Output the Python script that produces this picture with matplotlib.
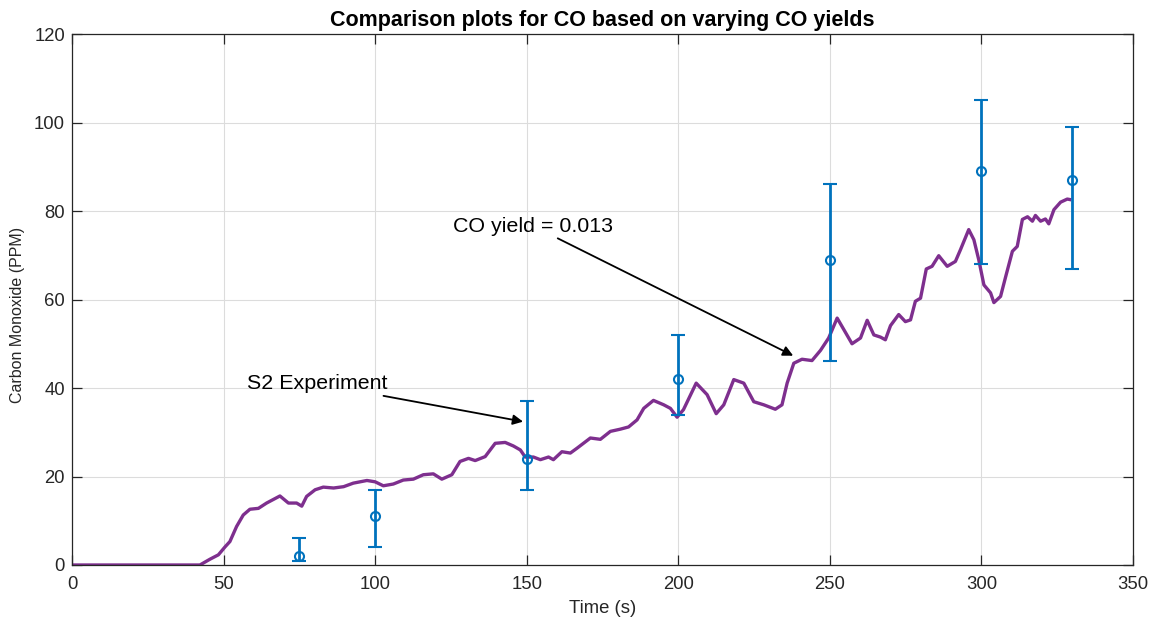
import numpy as np
import matplotlib as mpl
mpl.use('Agg')
import matplotlib.pyplot as plt

plt.rcParams['font.family'] = ['Liberation Sans', 'DejaVu Sans']

## measured CO trace (S2 experiment)
time_s = [0, 20, 42.2, 45.5, 48.3, 50.5, 52.1, 54.3, 56.5, 58.7, 61.5, 64.2,
          68.6, 71.4, 74.1, 75.8, 77.4, 80.2, 82.9, 86.3, 89.6, 92.8, 97.3,
          100, 102.7, 106, 109.3, 112.6, 115.9, 119.2, 122, 125.3, 128,
          130.8, 133, 136.3, 139.6, 142.9, 145.6, 147.9, 149.5, 152.2, 154.5,
          157.2, 158.8, 161.6, 164.4, 166.6, 171, 174.3, 177.6, 180.9, 183.6,
          186.4, 188.6, 191.8, 195.2, 197.4, 199.6, 201.7, 205.9, 209.5,
          212.5, 215, 218.3, 221.6, 224.9, 228.2, 232, 234.2, 235.9, 238.1,
          240.8, 244.1, 246.9, 249.6, 252.4, 254.6, 257.3, 260.1, 262.3,
          264.5, 266.7, 268.3, 270, 272.7, 274.9, 276.6, 278.2, 279.9, 281.8,
          283.7, 285.9, 288.7, 291.4, 293.1, 295.8, 297.5, 299.1, 300.8, 303,
          304.1, 306.3, 308, 310.2, 311.8, 313.5, 315.2, 316.8, 317.8, 319.5,
          321.1, 322.2, 323.9, 326.1, 328.3, 329.1]
co_ppm = [0, 0, 0, 1.3, 2.3, 4.1, 5.3, 8.7, 11.3, 12.6, 12.8, 14,
          15.6, 14, 14, 13.3, 15.5, 17, 17.6, 17.4, 17.7, 18.5, 19.1,
          18.8, 17.9, 18.3, 19.2, 19.4, 20.4, 20.6, 19.4, 20.4, 23.4,
          24.1, 23.6, 24.5, 27.5, 27.7, 26.9, 26, 24.4, 24.4, 23.8,
          24.4, 23.8, 25.6, 25.3, 26.4, 28.7, 28.4, 30.2, 30.7, 31.2,
          32.8, 35.4, 37.2, 36.2, 35.4, 33.4, 35.1, 41.1, 38.5,
          34.2, 36.2, 41.9, 41.1, 36.9, 36.2, 35.2, 36.2, 41.1, 45.6,
          46.5, 46.2, 48.5, 51.3, 55.8, 53.2, 50, 51.3, 55.3,
          52, 51.5, 50.9, 54.1, 56.6, 55, 55.4, 59.6, 60.3, 66.9,
          67.5, 69.9, 67.5, 68.6, 71.3, 75.8, 73.5, 69, 63.3, 61.5,
          59.3, 60.7, 65.2, 70.9, 72, 78.1, 78.7, 77.7, 79, 77.7,
          78.2, 77.1, 80.3, 82, 82.7, 82.6]

## model points for CO yield = 0.013
model_t = [75, 100, 150, 200, 250, 300, 330]
model_co = [2, 11, 24, 42, 69, 89, 87]
err_low = [1, 7, 7, 8, 23, 21, 20]
err_high = [4, 6, 13, 10, 17, 16, 12]

fig = plt.figure(figsize=(11.55, 6.23), dpi=100)
ax = fig.add_axes([0.0623, 0.0931, 0.9187, 0.8523])

ax.plot(time_s, co_ppm, color='#7E2F8E', lw=2.4)
ax.errorbar(model_t, model_co, yerr=[err_low, err_high], fmt='o',
            color='#0072BD', mfc='none', ms=6.5, mew=1.5, elinewidth=2,
            capsize=5, capthick=2)

ax.annotate('S2 Experiment', xy=(148.8, 32.4), xytext=(104, 41.0),
            ha='right', va='center', fontsize=15.4,
            arrowprops=dict(arrowstyle='-|>', color='black', lw=1.3,
                            mutation_scale=15, shrinkA=0, shrinkB=0))
ax.annotate('CO yield = 0.013', xy=(237.9, 47.3), xytext=(178.5, 76.6),
            ha='right', va='center', fontsize=15.4,
            arrowprops=dict(arrowstyle='-|>', color='black', lw=1.3,
                            mutation_scale=15, shrinkA=0, shrinkB=0))

ax.set_xlim(0, 350)
ax.set_ylim(0, 120)
ax.set_xticks(np.arange(0, 351, 50))
ax.set_yticks(np.arange(0, 121, 20))
ax.grid(True, color='#dcdcdc', lw=0.8)
ax.set_axisbelow(True)
ax.tick_params(direction='in', top=True, right=True, length=7,
               labelsize=13.3, colors='#262626', width=0.9)
ax.tick_params(axis='x', pad=8)
ax.tick_params(axis='y', pad=5)
for sp in ax.spines.values():
    sp.set_color('#262626')
    sp.set_linewidth(0.9)

ax.set_xlabel('Time (s)', fontsize=13.3, color='#262626', labelpad=5)
ax.set_ylabel('Carbon Monoxide (PPM)', fontsize=11.5, color='#262626',
              va='center')
ax.yaxis.set_label_coords(-0.051, 0.47)
ax.set_title('Comparison plots for CO based on varying CO yields',
             fontsize=15.5, fontweight='bold', pad=6)

fig.savefig('out.png', dpi=100)
